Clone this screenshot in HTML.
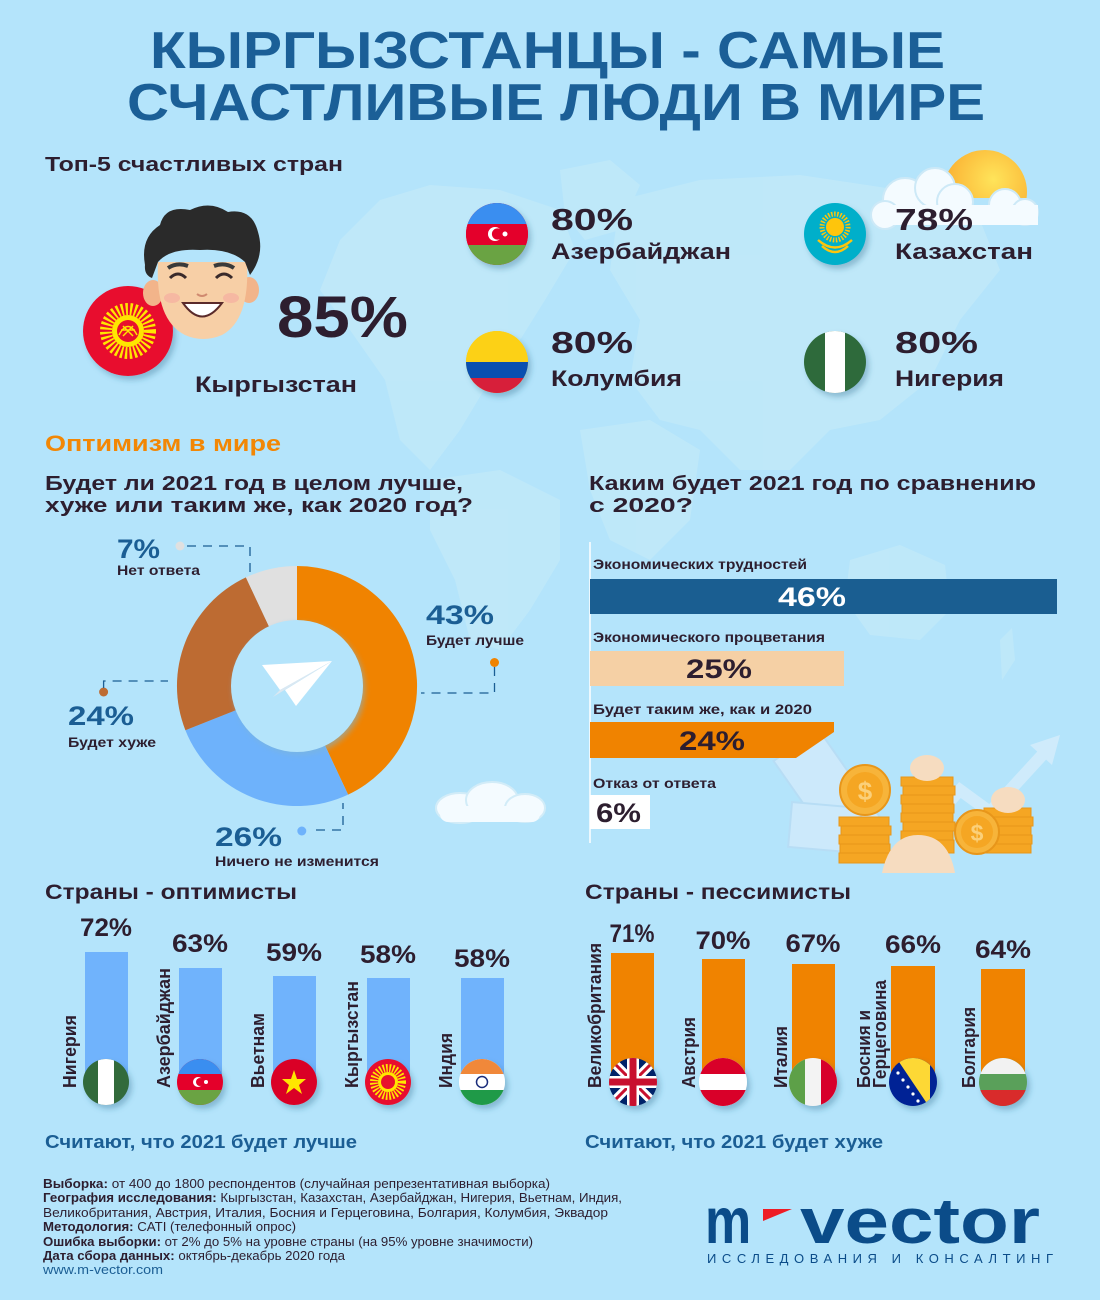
<!DOCTYPE html>
<html><head><meta charset="utf-8">
<style>
html,body{margin:0;padding:0;background:#b4e4fb;}
svg{display:block;}
text{font-family:"Liberation Sans","DejaVu Sans",sans-serif;font-weight:bold;fill:#2d1e2f;}
.bl{fill:#1b5e94;}
.n{font-weight:normal;}
</style></head><body>
<svg width="1100" height="1300" viewBox="0 0 1100 1300" xmlns="http://www.w3.org/2000/svg">
<defs>
 <filter id="sh" x="-40%" y="-40%" width="180%" height="180%"><feDropShadow dx="3" dy="4" stdDeviation="3" flood-color="#2f6688" flood-opacity="0.35"/></filter>
 <filter id="soft" x="-20%" y="-20%" width="140%" height="140%"><feGaussianBlur stdDeviation="3"/></filter>
 <radialGradient id="sunG" cx="0.6" cy="0.35" r="0.7"><stop offset="0" stop-color="#ffe45a"/><stop offset="1" stop-color="#f9a72b"/></radialGradient>
 <clipPath id="cAz"><circle cx="497" cy="234" r="31"/></clipPath>
 <clipPath id="cCo"><circle cx="497" cy="362" r="31"/></clipPath>
 <clipPath id="cNg"><circle cx="835" cy="362" r="31"/></clipPath>
 <clipPath id="cSun"><rect x="930" y="140" width="110" height="58"/></clipPath>
 <clipPath id="f1"><circle cx="106" cy="1082" r="23"/></clipPath>
 <clipPath id="f2"><circle cx="200" cy="1082" r="23"/></clipPath>
 <clipPath id="f5"><circle cx="482" cy="1082" r="23"/></clipPath>
 <clipPath id="p1"><circle cx="633" cy="1082" r="24"/></clipPath>
 <clipPath id="p2"><circle cx="723" cy="1082" r="24"/></clipPath>
 <clipPath id="p3"><circle cx="813" cy="1082" r="24"/></clipPath>
 <clipPath id="p4"><circle cx="913" cy="1082" r="24"/></clipPath>
 <clipPath id="p5"><circle cx="1003" cy="1082" r="24"/></clipPath>
</defs>

<rect width="1100" height="1300" fill="#b4e4fb"/>

<!-- faint world map -->
<g fill="#c6ebf8" opacity="0.6">
 <path d="M380,200 L430,185 L500,190 L560,210 L575,250 L545,300 L520,340 L490,380 L460,430 L430,470 L400,440 L385,380 L350,330 L320,290 L340,240 Z"/>
 <path d="M560,170 L610,160 L640,185 L620,230 L585,240 L565,215 Z"/>
 <path d="M620,200 L700,180 L800,175 L900,190 L980,220 L1000,270 L960,320 L930,380 L880,420 L830,430 L790,470 L740,470 L700,430 L660,420 L630,380 L640,320 L610,270 Z"/>
 <path d="M430,480 L500,470 L560,500 L560,560 L530,610 L500,650 L470,640 L455,580 L430,530 Z"/>
 <path d="M580,430 L650,420 L700,450 L690,520 L650,560 L610,540 L590,490 Z"/>
 <path d="M850,560 L900,545 L945,565 L950,610 L920,640 L870,635 L845,600 Z"/>
 <path d="M1000,640 L1012,628 L1015,660 L1002,680 Z"/>
</g>

<!-- Title -->
<text x="150" y="68" font-size="52" textLength="795" lengthAdjust="spacingAndGlyphs" style="fill:#1b5f97">КЫРГЫЗСТАНЦЫ - САМЫЕ</text>
<text x="127" y="120" font-size="52" textLength="858" lengthAdjust="spacingAndGlyphs" style="fill:#1b5f97">СЧАСТЛИВЫЕ ЛЮДИ В МИРЕ</text>

<text x="45" y="171" font-size="20" textLength="298" lengthAdjust="spacingAndGlyphs">Топ-5 счастливых стран</text>

<!-- Sun and clouds -->
<g clip-path="url(#cSun)"><circle cx="985" cy="192" r="42" fill="url(#sunG)"/></g>
<g fill="#f4fbff" stroke="#cde9f7" stroke-width="2">
 <circle cx="905" cy="200" r="22"/>
 <circle cx="935" cy="188" r="20"/>
 <circle cx="955" cy="202" r="18"/>
 <circle cx="1005" cy="205" r="16"/>
 <circle cx="1025" cy="212" r="13"/>
 <circle cx="885" cy="215" r="14"/>
</g>
<rect x="878" y="205" width="160" height="20" fill="#f4fbff"/>

<!-- Kyrgyz big flag -->
<g filter="url(#sh)">
 <circle cx="128" cy="331" r="45" fill="#e8112d"/>
</g>
<circle cx="128" cy="331" r="22" fill="none" stroke="#ffe600" stroke-width="12" stroke-dasharray="2.2 2.2"/>
<circle cx="128" cy="331" r="16" fill="#ffe600"/>
<circle cx="128" cy="331" r="11" fill="#e8112d"/>
<path d="M119,335 Q128,318 137,335 M121,330 L135,330 M123,326 L133,336 M133,326 L123,336" stroke="#ffe600" stroke-width="1.5" fill="none"/>

<!-- Boy -->
<g>
 <ellipse cx="153" cy="293" rx="10" ry="13" fill="#f2b48a"/>
 <ellipse cx="249" cy="290" rx="10" ry="13" fill="#f2b48a"/>
 <path d="M158,262 Q155,320 185,335 Q203,343 222,335 Q250,320 247,262 Z" fill="#f7cfa6"/>
 <path d="M145,265 Q140,238 160,225 Q165,205 190,210 Q210,200 228,212 Q252,208 258,232 Q265,255 250,275 L245,262 Q230,248 200,250 Q170,248 158,262 L152,278 Q144,275 145,265 Z" fill="#2a2a2a"/>
 <path d="M170,278 Q178,270 186,278 M216,278 Q224,270 232,278" stroke="#3a2a2a" stroke-width="3" fill="none"/>
 <path d="M168,268 Q177,262 188,266 M214,266 Q225,262 234,268" stroke="#3a3a3a" stroke-width="4" fill="none"/>
 <ellipse cx="172" cy="298" rx="8" ry="5" fill="#f5a9a0" opacity="0.6"/>
 <ellipse cx="231" cy="298" rx="8" ry="5" fill="#f5a9a0" opacity="0.6"/>
 <path d="M183,303 Q202,330 222,303 Z" fill="#ffffff" stroke="#5a2a2a" stroke-width="2"/>
 <path d="M197,294 Q202,298 207,294" stroke="#d08a70" stroke-width="2" fill="none"/>
</g>

<text x="277" y="337" font-size="58" textLength="131" lengthAdjust="spacingAndGlyphs">85%</text>
<text x="195" y="392" font-size="22" textLength="162" lengthAdjust="spacingAndGlyphs">Кыргызстан</text>

<!-- Azerbaijan -->
<g filter="url(#sh)"><circle cx="497" cy="234" r="31" fill="#e4002b"/></g>
<g clip-path="url(#cAz)">
 <rect x="466" y="203" width="62" height="21" fill="#3a8ef0"/>
 <rect x="466" y="224" width="62" height="21" fill="#e4002b"/>
 <rect x="466" y="245" width="62" height="22" fill="#6aa343"/>
 <circle cx="495" cy="234" r="7" fill="#fff"/><circle cx="497.5" cy="234" r="5.6" fill="#e4002b"/>
 <circle cx="505" cy="234" r="2.5" fill="#fff"/>
</g>
<text x="551" y="230" font-size="31" textLength="82" lengthAdjust="spacingAndGlyphs">80%</text>
<text x="551" y="259" font-size="22" textLength="180" lengthAdjust="spacingAndGlyphs">Азербайджан</text>

<!-- Kazakhstan -->
<g filter="url(#sh)"><circle cx="835" cy="234" r="31" fill="#00afca"/></g>
<circle cx="835" cy="227" r="13" fill="none" stroke="#fec50c" stroke-width="5" stroke-dasharray="1.5 1.5"/>
<circle cx="835" cy="227" r="9" fill="#fec50c"/>
<path d="M818,240 Q835,255 852,240 M822,246 Q835,258 848,246" stroke="#fec50c" stroke-width="2.5" fill="none"/>
<text x="895" y="230" font-size="31" textLength="78" lengthAdjust="spacingAndGlyphs">78%</text>
<text x="895" y="259" font-size="22" textLength="138" lengthAdjust="spacingAndGlyphs">Казахстан</text>

<!-- Colombia -->
<g filter="url(#sh)"><circle cx="497" cy="362" r="31" fill="#fcd116"/></g>
<g clip-path="url(#cCo)">
 <rect x="466" y="331" width="62" height="31" fill="#fcd116"/>
 <rect x="466" y="362" width="62" height="16" fill="#0a4fb0"/>
 <rect x="466" y="378" width="62" height="16" fill="#d71f3a"/>
</g>
<text x="551" y="353" font-size="31" textLength="82" lengthAdjust="spacingAndGlyphs">80%</text>
<text x="551" y="386" font-size="22" textLength="131" lengthAdjust="spacingAndGlyphs">Колумбия</text>

<!-- Nigeria -->
<g filter="url(#sh)"><circle cx="835" cy="362" r="31" fill="#2f6b3a"/></g>
<g clip-path="url(#cNg)">
 <rect x="825" y="331" width="20" height="62" fill="#ffffff"/>
</g>
<text x="895" y="353" font-size="31" textLength="83" lengthAdjust="spacingAndGlyphs">80%</text>
<text x="895" y="386" font-size="22" textLength="109" lengthAdjust="spacingAndGlyphs">Нигерия</text>

<!-- Optimism section -->
<text x="45" y="451" font-size="22" textLength="236" lengthAdjust="spacingAndGlyphs" style="fill:#f28705">Оптимизм в мире</text>
<text x="45" y="490" font-size="20" textLength="418" lengthAdjust="spacingAndGlyphs">Будет ли 2021 год в целом лучше,</text>
<text x="45" y="512" font-size="20" textLength="428" lengthAdjust="spacingAndGlyphs">хуже или таким же, как 2020 год?</text>

<text x="589" y="490" font-size="20" textLength="447" lengthAdjust="spacingAndGlyphs">Каким будет 2021 год по сравнению</text>
<text x="589" y="512" font-size="20" textLength="104" lengthAdjust="spacingAndGlyphs">с 2020?</text>

<!-- Donut -->
<path d="M297,686 L297,566 A120,120 0 0 1 348.1,794.6 Z" fill="#f08300"/>
<path d="M297,686 L348.1,794.6 A120,120 0 0 1 185.4,730.2 Z" fill="#6eb2fb"/>
<path d="M297,686 L185.4,730.2 A120,120 0 0 1 245.9,577.4 Z" fill="#bd6b32"/>
<path d="M297,686 L245.9,577.4 A120,120 0 0 1 297,566 Z" fill="#e0e0e0"/>
<circle cx="299" cy="689" r="66" fill="#7fb6d6" filter="url(#soft)" opacity="0.6"/>
<circle cx="297" cy="686" r="66" fill="#b4e4fb"/>
<!-- paper plane -->
<polygon points="262,665 332,661 280,690" fill="#ffffff"/>
<polygon points="332,661 285,690 296,706" fill="#ffffff"/>
<polygon points="280,690 332,661 273,697" fill="#dbe8f2"/>

<!-- donut labels -->
<text x="117" y="558" font-size="27" textLength="43" lengthAdjust="spacingAndGlyphs" class="bl">7%</text>
<text x="117" y="575" font-size="14" textLength="83" lengthAdjust="spacingAndGlyphs">Нет ответа</text>
<circle cx="180" cy="546" r="4.5" fill="#e0e0e0"/>
<path d="M187,546 L250,546 L250,573" stroke="#1b5e94" stroke-width="1.3" fill="none" stroke-dasharray="9 7"/>

<text x="426" y="624" font-size="27" textLength="68" lengthAdjust="spacingAndGlyphs" class="bl">43%</text>
<text x="426" y="645" font-size="14" textLength="98" lengthAdjust="spacingAndGlyphs">Будет лучше</text>
<circle cx="494.5" cy="662.5" r="4.5" fill="#f08300"/>
<path d="M494.5,667 L494.5,693 L421,693" stroke="#1b5e94" stroke-width="1.3" fill="none" stroke-dasharray="9 7"/>

<text x="68" y="725" font-size="27" textLength="66" lengthAdjust="spacingAndGlyphs" class="bl">24%</text>
<text x="68" y="747" font-size="14" textLength="88" lengthAdjust="spacingAndGlyphs">Будет хуже</text>
<circle cx="103.6" cy="692" r="4.5" fill="#bd6b32"/>
<path d="M103.6,688 L103.6,681 L168,681" stroke="#1b5e94" stroke-width="1.3" fill="none" stroke-dasharray="9 7"/>

<text x="215" y="846" font-size="27" textLength="67" lengthAdjust="spacingAndGlyphs" class="bl">26%</text>
<text x="215" y="866" font-size="14" textLength="164" lengthAdjust="spacingAndGlyphs">Ничего не изменится</text>
<circle cx="301.8" cy="831" r="4.5" fill="#6eb2fb"/>
<path d="M316,830 L343,830 L343,803" stroke="#1b5e94" stroke-width="1.3" fill="none" stroke-dasharray="9 7"/>

<!-- cloud near donut -->
<g fill="#f4fbff" stroke="#d2ecf8" stroke-width="2">
 <ellipse cx="460" cy="808" rx="24" ry="15"/>
 <ellipse cx="492" cy="800" rx="26" ry="18"/>
 <ellipse cx="525" cy="808" rx="20" ry="14"/>
</g>
<rect x="440" y="806" width="100" height="16" rx="8" fill="#f4fbff"/>

<!-- Money illustration -->
<g opacity="0.75">
 <rect x="800" y="735" width="55" height="110" fill="#d5ebfb" stroke="#b8dbf4" stroke-width="2" transform="rotate(-35 828 790)"/>
 <rect x="790" y="805" width="70" height="45" fill="#d5ebfb" stroke="#b8dbf4" stroke-width="2" transform="rotate(5 825 827)"/>
 <polyline points="905,850 960,790 990,812 1045,752" stroke="#d8eefb" stroke-width="12" fill="none"/>
 <polygon points="1030,745 1060,735 1052,765" fill="#d8eefb"/>
</g>
<g fill="#f5a623" stroke="#e8961a" stroke-width="1">
 <rect x="839" y="817" width="50" height="9"/><rect x="841" y="826" width="50" height="9"/><rect x="839" y="835" width="50" height="9"/><rect x="840" y="844" width="50" height="9"/><rect x="839" y="853" width="50" height="10"/>
 <rect x="901" y="777" width="52" height="9"/><rect x="903" y="786" width="52" height="9"/><rect x="901" y="795" width="52" height="9"/><rect x="902" y="804" width="52" height="9"/><rect x="901" y="813" width="52" height="9"/><rect x="903" y="822" width="52" height="9"/><rect x="901" y="831" width="52" height="9"/><rect x="902" y="840" width="52" height="13"/>
 <rect x="984" y="808" width="47" height="9"/><rect x="986" y="817" width="47" height="9"/><rect x="984" y="826" width="47" height="9"/><rect x="985" y="835" width="47" height="9"/><rect x="984" y="844" width="47" height="9"/>
</g>
<ellipse cx="927" cy="768" rx="17" ry="13" fill="#f6dcc0"/>
<ellipse cx="1008" cy="800" rx="17" ry="13" fill="#f6dcc0"/>
<path d="M882,873 Q890,835 918,835 Q948,835 955,873 Z" fill="#f6dcc0"/>
<circle cx="865" cy="790" r="25" fill="#f7b43a" stroke="#e8961a" stroke-width="2"/>
<circle cx="865" cy="790" r="18" fill="#f5a623"/>
<text x="865" y="800" font-size="26" text-anchor="middle" style="fill:#fbd07a">$</text>
<circle cx="977" cy="832" r="22" fill="#f7b43a" stroke="#e8961a" stroke-width="2"/>
<circle cx="977" cy="832" r="16" fill="#f5a623"/>
<text x="977" y="841" font-size="23" text-anchor="middle" style="fill:#fbd07a">$</text>

<!-- Horizontal bars -->
<line x1="590" y1="542" x2="590" y2="843" stroke="#ffffff" stroke-width="1.5"/>
<text x="593" y="569" font-size="14" textLength="214" lengthAdjust="spacingAndGlyphs">Экономических трудностей</text>
<rect x="590" y="579" width="467" height="35" fill="#1a5e91"/>
<text x="778" y="606" font-size="27" textLength="68" lengthAdjust="spacingAndGlyphs" style="fill:#ffffff">46%</text>
<text x="593" y="642" font-size="14" textLength="232" lengthAdjust="spacingAndGlyphs">Экономического процветания</text>
<rect x="590" y="651" width="254" height="35" fill="#f5d0a5"/>
<text x="686" y="678" font-size="27" textLength="66" lengthAdjust="spacingAndGlyphs">25%</text>
<text x="593" y="714" font-size="14" textLength="219" lengthAdjust="spacingAndGlyphs">Будет таким же, как и 2020</text>
<polygon points="590,722 834,722 834,732 796,758 590,758" fill="#f08300"/>
<text x="679" y="750" font-size="27" textLength="66" lengthAdjust="spacingAndGlyphs">24%</text>
<text x="593" y="788" font-size="14" textLength="123" lengthAdjust="spacingAndGlyphs">Отказ от ответа</text>
<rect x="590" y="795" width="60" height="34" fill="#ffffff"/>
<text x="596" y="822" font-size="27" textLength="45" lengthAdjust="spacingAndGlyphs">6%</text>

<!-- Optimists -->
<text x="45" y="899" font-size="21" textLength="252" lengthAdjust="spacingAndGlyphs">Страны - оптимисты</text>
<g fill="#70b3fc">
 <rect x="85" y="952" width="43" height="130"/>
 <rect x="179" y="968" width="43" height="114"/>
 <rect x="273" y="976" width="43" height="106"/>
 <rect x="367" y="978" width="43" height="104"/>
 <rect x="461" y="978" width="43" height="104"/>
</g>
<text x="106" y="936" font-size="25" text-anchor="middle" textLength="52" lengthAdjust="spacingAndGlyphs">72%</text>
<text x="200" y="952" font-size="25" text-anchor="middle" textLength="56" lengthAdjust="spacingAndGlyphs">63%</text>
<text x="294" y="961" font-size="25" text-anchor="middle" textLength="56" lengthAdjust="spacingAndGlyphs">59%</text>
<text x="388" y="963" font-size="25" text-anchor="middle" textLength="56" lengthAdjust="spacingAndGlyphs">58%</text>
<text x="482" y="967" font-size="25" text-anchor="middle" textLength="56" lengthAdjust="spacingAndGlyphs">58%</text>

<text transform="translate(76,1088) rotate(-90)" font-size="18" textLength="73" lengthAdjust="spacingAndGlyphs">Нигерия</text>
<text transform="translate(170,1088) rotate(-90)" font-size="18" textLength="120" lengthAdjust="spacingAndGlyphs">Азербайджан</text>
<text transform="translate(264,1088) rotate(-90)" font-size="18" textLength="75" lengthAdjust="spacingAndGlyphs">Вьетнам</text>
<text transform="translate(358,1088) rotate(-90)" font-size="18" textLength="107" lengthAdjust="spacingAndGlyphs">Кыргызстан</text>
<text transform="translate(452,1088) rotate(-90)" font-size="18" textLength="55" lengthAdjust="spacingAndGlyphs">Индия</text>

<!-- optimist flags -->
<g filter="url(#sh)">
 <circle cx="106" cy="1082" r="23" fill="#316b3a"/>
 <circle cx="200" cy="1082" r="23" fill="#e4002b"/>
 <circle cx="294" cy="1082" r="23" fill="#da0025"/>
 <circle cx="388" cy="1082" r="23" fill="#e8112d"/>
 <circle cx="482" cy="1082" r="23" fill="#ffffff"/>
</g>
<g clip-path="url(#f1)"><rect x="98" y="1059" width="16" height="46" fill="#ffffff"/></g>
<g clip-path="url(#f2)">
 <rect x="177" y="1059" width="46" height="15" fill="#3a8ef0"/>
 <rect x="177" y="1090" width="46" height="16" fill="#6aa343"/>
 <circle cx="198" cy="1082" r="5" fill="#fff"/><circle cx="200" cy="1082" r="4" fill="#e4002b"/>
 <circle cx="206" cy="1082" r="2" fill="#fff"/>
</g>
<polygon points="294,1070 297,1079 306,1079 299,1085 302,1094 294,1088 286,1094 289,1085 282,1079 291,1079" fill="#ffe600"/>
<circle cx="388" cy="1082" r="14" fill="none" stroke="#ffe600" stroke-width="8" stroke-dasharray="1.6 1.6"/>
<circle cx="388" cy="1082" r="10" fill="#ffe600"/>
<circle cx="388" cy="1082" r="7" fill="#e8112d"/>
<g clip-path="url(#f5)">
 <rect x="459" y="1059" width="46" height="15" fill="#f0883a"/>
 <rect x="459" y="1090" width="46" height="16" fill="#1f9a48"/>
 <circle cx="482" cy="1082" r="5.5" fill="none" stroke="#1a2c7a" stroke-width="1.5"/>
</g>

<text x="45" y="1148" font-size="18" textLength="312" lengthAdjust="spacingAndGlyphs" class="bl">Считают, что 2021 будет лучше</text>

<!-- Pessimists -->
<text x="585" y="899" font-size="21" textLength="266" lengthAdjust="spacingAndGlyphs">Страны - пессимисты</text>
<g fill="#f08300">
 <rect x="611" y="953" width="43" height="129"/>
 <rect x="702" y="959" width="43" height="123"/>
 <rect x="792" y="964" width="43" height="118"/>
 <rect x="891" y="966" width="44" height="116"/>
 <rect x="981" y="969" width="44" height="113"/>
</g>
<text x="632" y="942" font-size="25" text-anchor="middle" textLength="45" lengthAdjust="spacingAndGlyphs">71%</text>
<text x="723" y="949" font-size="25" text-anchor="middle" textLength="55" lengthAdjust="spacingAndGlyphs">70%</text>
<text x="813" y="952" font-size="25" text-anchor="middle" textLength="55" lengthAdjust="spacingAndGlyphs">67%</text>
<text x="913" y="953" font-size="25" text-anchor="middle" textLength="56" lengthAdjust="spacingAndGlyphs">66%</text>
<text x="1003" y="958" font-size="25" text-anchor="middle" textLength="56" lengthAdjust="spacingAndGlyphs">64%</text>

<text transform="translate(601,1088) rotate(-90)" font-size="18" textLength="145" lengthAdjust="spacingAndGlyphs">Великобритания</text>
<text transform="translate(695,1088) rotate(-90)" font-size="18" textLength="71" lengthAdjust="spacingAndGlyphs">Австрия</text>
<text transform="translate(787,1088) rotate(-90)" font-size="18" textLength="62" lengthAdjust="spacingAndGlyphs">Италия</text>
<text transform="translate(870,1088) rotate(-90)" font-size="18" textLength="78" lengthAdjust="spacingAndGlyphs">Босния и</text>
<text transform="translate(886,1088) rotate(-90)" font-size="18" textLength="108" lengthAdjust="spacingAndGlyphs">Герцеговина</text>
<text transform="translate(975,1088) rotate(-90)" font-size="18" textLength="81" lengthAdjust="spacingAndGlyphs">Болгария</text>

<!-- pessimist flags -->
<g filter="url(#sh)">
 <circle cx="633" cy="1082" r="24" fill="#012169"/>
 <circle cx="723" cy="1082" r="24" fill="#ffffff"/>
 <circle cx="813" cy="1082" r="24" fill="#f3f3f3"/>
 <circle cx="913" cy="1082" r="24" fill="#002395"/>
 <circle cx="1003" cy="1082" r="24" fill="#5aa05a"/>
</g>
<g clip-path="url(#p1)">
 <path d="M609,1058 L657,1106 M657,1058 L609,1106" stroke="#fff" stroke-width="9"/>
 <path d="M609,1058 L657,1106 M657,1058 L609,1106" stroke="#c8102e" stroke-width="3"/>
 <path d="M633,1058 L633,1106 M609,1082 L657,1082" stroke="#fff" stroke-width="12"/>
 <path d="M633,1058 L633,1106 M609,1082 L657,1082" stroke="#c8102e" stroke-width="7"/>
</g>
<g clip-path="url(#p2)">
 <rect x="699" y="1058" width="48" height="16" fill="#d90029"/>
 <rect x="699" y="1090" width="48" height="16" fill="#d90029"/>
</g>
<g clip-path="url(#p3)">
 <rect x="789" y="1058" width="16" height="48" fill="#5da048"/>
 <rect x="821" y="1058" width="16" height="48" fill="#d7002b"/>
</g>
<g clip-path="url(#p4)">
 <polygon points="895,1056 930,1056 930,1108" fill="#fdd835"/>
 <g fill="#fff">
  <circle cx="893" cy="1066" r="1.6"/><circle cx="898" cy="1073" r="1.6"/><circle cx="903" cy="1080" r="1.6"/><circle cx="908" cy="1087" r="1.6"/><circle cx="913" cy="1094" r="1.6"/><circle cx="918" cy="1101" r="1.6"/>
 </g>
</g>
<g clip-path="url(#p5)">
 <rect x="979" y="1058" width="48" height="16" fill="#f2f2f2"/>
 <rect x="979" y="1090" width="48" height="16" fill="#d92b2b"/>
</g>

<text x="585" y="1148" font-size="18" textLength="298" lengthAdjust="spacingAndGlyphs" class="bl">Считают, что 2021 будет хуже</text>

<!-- Footer -->
<g font-size="13">
<text x="43" y="1188" textLength="507" lengthAdjust="spacingAndGlyphs">Выборка: <tspan class="n">от 400 до 1800 респондентов (случайная репрезентативная выборка)</tspan></text>
<text x="43" y="1202" textLength="579" lengthAdjust="spacingAndGlyphs">География исследования: <tspan class="n">Кыргызстан, Казахстан, Азербайджан, Нигерия, Вьетнам, Индия,</tspan></text>
<text x="43" y="1217" textLength="565" lengthAdjust="spacingAndGlyphs" class="n">Великобритания, Австрия, Италия, Босния и Герцеговина, Болгария, Колумбия, Эквадор</text>
<text x="43" y="1231" textLength="253" lengthAdjust="spacingAndGlyphs">Методология: <tspan class="n">CATI (телефонный опрос)</tspan></text>
<text x="43" y="1246" textLength="490" lengthAdjust="spacingAndGlyphs">Ошибка выборки: <tspan class="n">от 2% до 5% на уровне страны (на 95% уровне значимости)</tspan></text>
<text x="43" y="1260" textLength="302" lengthAdjust="spacingAndGlyphs">Дата сбора данных: <tspan class="n">октябрь-декабрь 2020 года</tspan></text>
<text x="43" y="1274" textLength="120" lengthAdjust="spacingAndGlyphs" class="n" style="fill:#1b5e94">www.m-vector.com</text>
</g>

<!-- Logo -->
<text transform="translate(705,1243) scale(1,1.25)" font-size="52" style="fill:#0b4c89">m</text>
<polygon points="763,1209 792,1209 763,1221" fill="#ee1c25"/>
<text x="800" y="1243" font-size="64" textLength="240" lengthAdjust="spacingAndGlyphs" style="fill:#0b4c89">vector</text>
<text x="707" y="1263" font-size="13" textLength="346" lengthAdjust="spacing" class="n" style="fill:#0b4c89">ИССЛЕДОВАНИЯ И КОНСАЛТИНГ</text>

</svg>
</body></html>
